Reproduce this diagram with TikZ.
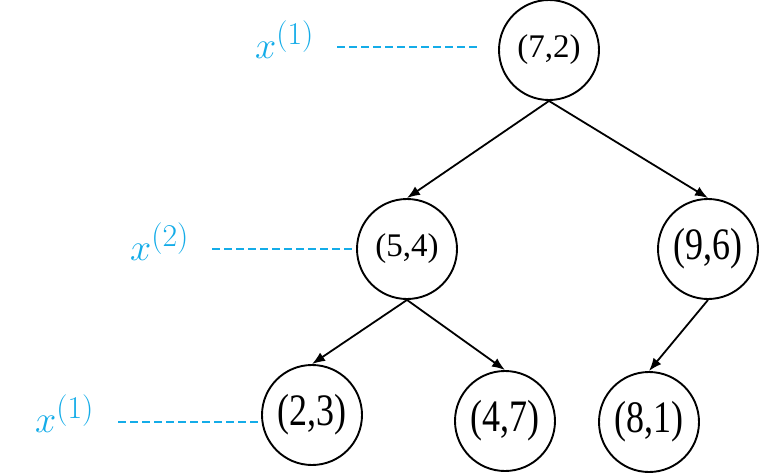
\documentclass[tikz,border=0pt]{standalone}
\usepackage{fontspec}
\usepackage{graphicx}
\setmainfont{Liberation Serif}
\usetikzlibrary{arrows.meta}
\definecolor{lblcyan}{RGB}{20,172,232}
\tikzset{
  keynode/.style={circle,draw=black,line width=1.9pt,minimum size=100pt,inner sep=0pt},
  smalltxt/.style={font=\fontsize{33}{38}\selectfont},
  bigtxt/.style={font=\fontsize{45}{50}\selectfont},
  edge/.style={line width=1.8pt,-{Latex[length=13pt,width=10pt]}},
  levellbl/.style={text=lblcyan,anchor=base west,inner sep=0pt,font=\fontsize{24.88}{30}\selectfont},
  guide/.style={draw=lblcyan,line width=1.4pt,dash pattern=on 8pt off 4pt}
}
\newcommand{\lvl}[1]{\scalebox{1.53}{$x^{(#1)}$}}
\newcommand{\tall}[1]{\scalebox{0.8}[1]{#1}}
\begin{document}
\begin{tikzpicture}[x=1pt,y=-1pt]
\useasboundingbox (0,0) rectangle (768,474);
\node[keynode,smalltxt] (r) at (549,50) {(7,2)};
\node[keynode,smalltxt] (a) at (407,249) {(5,4)};
\node[keynode,bigtxt] (b) at (708,249) {\tall{(9,6)}};
\node[keynode,bigtxt] (c) at (312,415) {\tall{(2,3)}};
\node[keynode,bigtxt] (d) at (505,421) {\tall{(4,7)}};
\node[keynode,bigtxt] (e) at (649,422) {\tall{(8,1)}};
\draw[edge] (r.south) -- (a.north);
\draw[edge] (r.south) -- (b.north);
\draw[edge] (a.south) -- (c.north);
\draw[edge] (a.south) -- (d.north);
\draw[edge] (b.south) -- (e.north);
\node[levellbl] (l1) at (255,58) {\lvl{1}};
\node[levellbl] (l2) at (130,260) {\lvl{2}};
\node[levellbl] (l3) at (35,432) {\lvl{1}};
\coordinate (g1s) at (337,47);
\coordinate (g1e) at (478,47);
\coordinate (g2s) at (212,249);
\coordinate (g2e) at (353,249);
\coordinate (g3s) at (118,422);
\coordinate (g3e) at (260,422);
\draw[guide] (g1s) -- (g1e);
\draw[guide] (g2s) -- (g2e);
\draw[guide] (g3s) -- (g3e);
\end{tikzpicture}
\end{document}
